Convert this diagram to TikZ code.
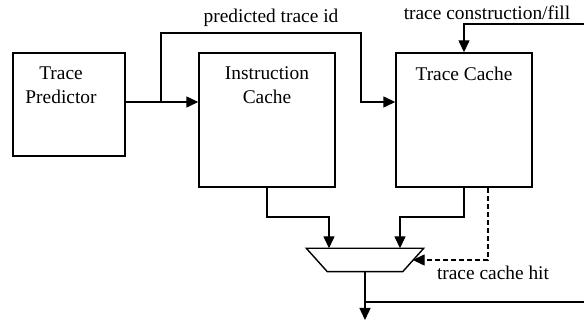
\documentclass[tikz,border=0pt]{standalone}
\usepackage{fontspec}
\setmainfont{Liberation Serif}
\usetikzlibrary{arrows.meta,calc}

\begin{document}
\begin{tikzpicture}[x=0.5pt, y=-0.5pt, >={Triangle[length=6pt,width=5.5pt]}, line width=0.7pt,
  unit/.style={draw, minimum width=#1, minimum height=67pt, inner sep=0pt},
  tag/.style={font=\fontsize{9.7}{12}\selectfont, align=center, inner sep=0pt}]
\useasboundingbox (0,0) rectangle (584,324);
\node[unit=56pt, minimum height=51.5pt, label={[tag, anchor=north, yshift=-7pt, xshift=-4pt]north:Trace\\Predictor}] (p) at (69,104.5) {};
\node[unit=68pt, label={[tag, anchor=north, yshift=-7pt]north:Instruction\\Cache}] (ic) at (267,120) {};
\node[unit=68pt, label={[tag, anchor=north, yshift=-7pt]north:Trace Cache}] (tc) at (464,120) {};
% multiplexer
\node[minimum width=58pt, minimum height=11pt, inner sep=0pt] (m) at (365,260) {};
\draw (m.north west) -- (m.north east) -- ($(m.south east)+(-21,0)$) -- ($(m.south west)+(21,0)$) -- cycle;
\coordinate (fork) at (161,102);
\coordinate (bend) at (361,33);
\coordinate (fill) at (584,24);
\coordinate (out) at (364,320);
\draw[->] (p.east |- fork) -- (ic.west |- fork);
\draw[->] (fork) -- (fork |- bend) -- (bend) -- (bend |- fork) -- (tc.west |- fork);
\draw[->] (fill) -| (tc.north);
\draw[->] (ic.south) -- (ic.south |- 0,217) -| ($(m.north)+(-36,0)$);
\draw[->] (tc.south) -- (tc.south |- 0,217) -| ($(m.north)+(35,0)$);
\draw[->, dashed, dash pattern=on 2.5pt off 1.5pt] ($(tc.south)+(24,0)$) |- ($(m.east)+(-11,0)$);
\draw[->] (m.south) -- (m.south |- out);
\draw (m.south |- 0,302) -- (584,302);
\node[tag] (lid) at (271,18) {predicted trace id};
\node[tag] (lfill) at (487,13) {trace construction/fill};
\node[tag] (lhit) at (493,273) {trace cache hit};
\end{tikzpicture}
\end{document}
